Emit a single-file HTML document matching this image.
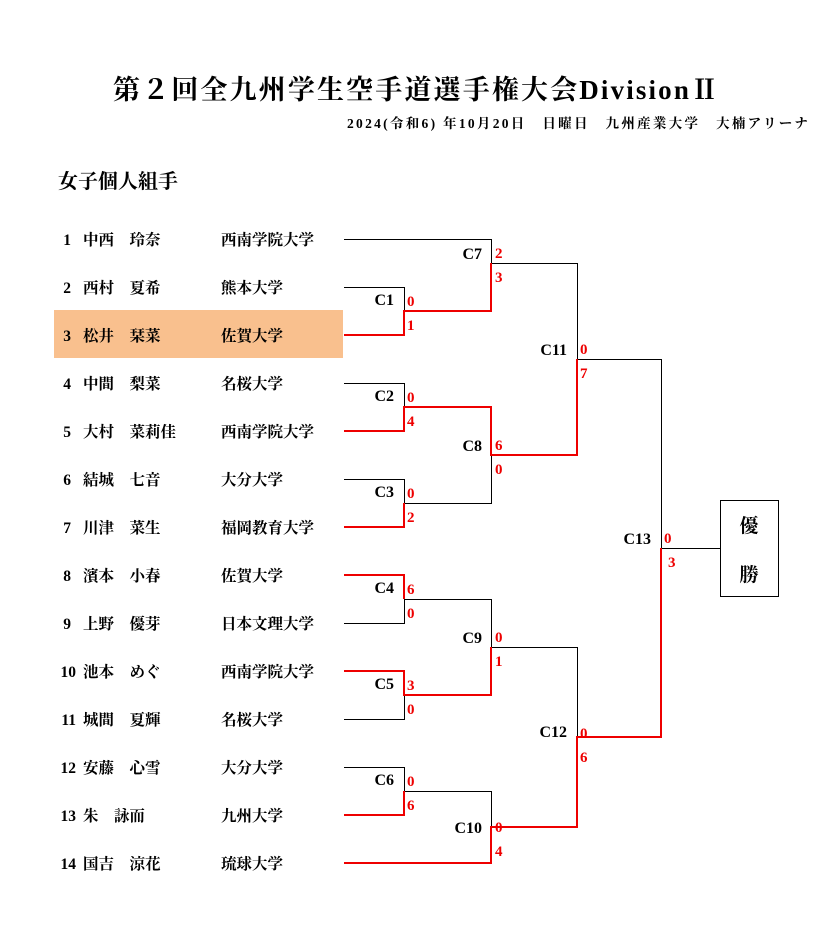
<!DOCTYPE html>
<html><head><meta charset="utf-8"><style>
html,body{margin:0;padding:0;background:#fff;}
svg{display:block;}
text{font-family:"Liberation Serif","Noto Serif CJK JP",serif;font-weight:bold;}
.p{font-size:15.5px;fill:#000;}
.c{font-size:16px;fill:#000;text-anchor:end;}
.s{font-size:15px;fill:#e00;font-weight:normal;}
</style></head><body>
<svg width="817" height="931" viewBox="0 0 817 931" xmlns="http://www.w3.org/2000/svg">
<text x="113" y="99" textLength="605" lengthAdjust="spacing" style="font-size:27px">第２回全九州学生空手道選手権大会DivisionⅡ</text>
<text x="347" y="128" textLength="461" lengthAdjust="spacing" style="font-size:13.5px">2024(令和6) 年10月20日　日曜日　九州産業大学　大楠アリーナ</text>
<text x="58" y="188" style="font-size:20px">女子個人組手</text>
<rect x="54" y="310" width="289" height="48" fill="#f9c08e"/>
<g class="p">
<text x="71" y="245" text-anchor="end">1</text><text x="83" y="245">中西　玲奈</text><text x="221" y="245">西南学院大学</text>
<text x="71" y="293" text-anchor="end">2</text><text x="83" y="293">西村　夏希</text><text x="221" y="293">熊本大学</text>
<text x="71" y="341" text-anchor="end">3</text><text x="83" y="341">松井　栞菜</text><text x="221" y="341">佐賀大学</text>
<text x="71" y="389" text-anchor="end">4</text><text x="83" y="389">中間　梨菜</text><text x="221" y="389">名桜大学</text>
<text x="71" y="437" text-anchor="end">5</text><text x="83" y="437">大村　菜莉佳</text><text x="221" y="437">西南学院大学</text>
<text x="71" y="485" text-anchor="end">6</text><text x="83" y="485">結城　七音</text><text x="221" y="485">大分大学</text>
<text x="71" y="533" text-anchor="end">7</text><text x="83" y="533">川津　菜生</text><text x="221" y="533">福岡教育大学</text>
<text x="71" y="581" text-anchor="end">8</text><text x="83" y="581">濱本　小春</text><text x="221" y="581">佐賀大学</text>
<text x="71" y="629" text-anchor="end">9</text><text x="83" y="629">上野　優芽</text><text x="221" y="629">日本文理大学</text>
<text x="76" y="677" text-anchor="end">10</text><text x="83" y="677">池本　めぐ</text><text x="221" y="677">西南学院大学</text>
<text x="76" y="725" text-anchor="end">11</text><text x="83" y="725">城間　夏輝</text><text x="221" y="725">名桜大学</text>
<text x="76" y="773" text-anchor="end">12</text><text x="83" y="773">安藤　心雪</text><text x="221" y="773">大分大学</text>
<text x="76" y="821" text-anchor="end">13</text><text x="83" y="821">朱　詠而</text><text x="221" y="821">九州大学</text>
<text x="76" y="869" text-anchor="end">14</text><text x="83" y="869">国吉　涼花</text><text x="221" y="869">琉球大学</text>
</g>
<g fill="none" stroke="#000" stroke-width="1">
<path d="M344 239.5H491.5V263.5H577.5V359.5H661.5V548.5H720"/>
<path d="M344 287.5H404.5V311"/>
<path d="M344 383.5H404.5V407"/>
<path d="M344 479.5H404.5V503.5H491.5V455"/>
<path d="M344 623.5H404.5V599.5H491.5V647.5H577.5V737"/>
<path d="M344 719.5H404.5V695"/>
<path d="M344 767.5H404.5V791.5H491.5V827"/>
<rect x="720.5" y="500.5" width="58" height="96"/>
</g>
<g fill="none" stroke="#e00" stroke-width="2">
<path d="M344 335H404V311H491V263"/>
<path d="M344 431H404V407H491V455H577V359"/>
<path d="M344 527H404V503"/>
<path d="M344 575H404V599"/>
<path d="M344 671H404V695H491V647"/>
<path d="M344 815H404V791"/>
<path d="M344 863H491V827H577V737H661V548"/>
</g>
<g class="c">
<text x="394" y="305">C1</text><text x="394" y="401">C2</text><text x="394" y="497">C3</text>
<text x="394" y="593">C4</text><text x="394" y="689">C5</text><text x="394" y="785">C6</text>
<text x="482" y="259">C7</text><text x="482" y="451">C8</text><text x="482" y="643">C9</text><text x="482" y="833">C10</text>
<text x="567" y="355">C11</text><text x="567" y="737">C12</text><text x="651" y="544">C13</text>
</g>
<g class="s">
<text x="407" y="306">0</text><text x="407" y="330">1</text>
<text x="407" y="402">0</text><text x="407" y="426">4</text>
<text x="407" y="498">0</text><text x="407" y="522">2</text>
<text x="407" y="594">6</text><text x="407" y="618">0</text>
<text x="407" y="690">3</text><text x="407" y="714">0</text>
<text x="407" y="786">0</text><text x="407" y="810">6</text>
<text x="495" y="258">2</text><text x="495" y="282">3</text>
<text x="495" y="450">6</text><text x="495" y="474">0</text>
<text x="495" y="642">0</text><text x="495" y="666">1</text>
<text x="495" y="832">0</text><text x="495" y="856">4</text>
<text x="580" y="354">0</text><text x="580" y="378">7</text>
<text x="580" y="738">0</text><text x="580" y="762">6</text>
<text x="664" y="543">0</text><text x="668" y="567">3</text>
</g>
<text x="749" y="532" text-anchor="middle" style="font-size:19px">優</text>
<text x="749" y="581" text-anchor="middle" style="font-size:19px">勝</text>
</svg>
</body></html>
